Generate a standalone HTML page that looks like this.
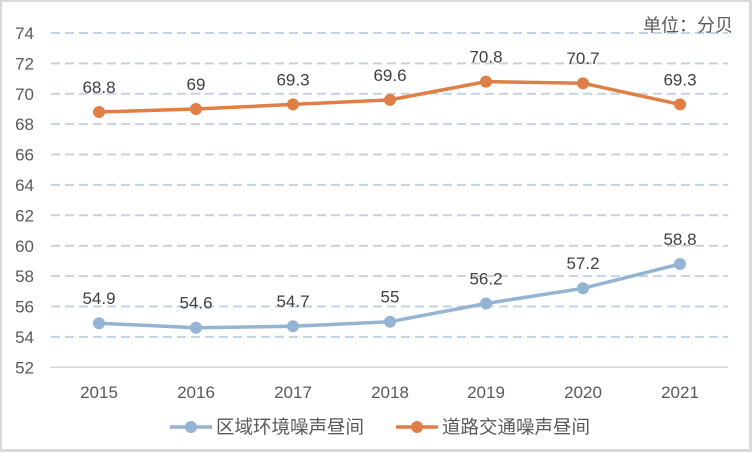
<!DOCTYPE html>
<html>
<head>
<meta charset="utf-8">
<style>
html,body{margin:0;padding:0;background:#fff;}
svg{display:block;}
text{font-family:"Liberation Sans","Noto Sans CJK SC",sans-serif;fill:#595959;}
</style>
</head>
<body>
<svg width="752" height="452" viewBox="0 0 752 452" xmlns="http://www.w3.org/2000/svg">
  <rect x="0" y="0" width="752" height="452" fill="#d9d9d9"/>
  <rect x="2" y="2" width="747" height="447" fill="#ffffff"/>

  <!-- gridlines -->
  <g stroke="#c3d3e2" stroke-width="2" stroke-dasharray="9 5">
    <line x1="51" y1="33" x2="728" y2="33"/>
    <line x1="51" y1="63.4" x2="728" y2="63.4"/>
    <line x1="51" y1="93.8" x2="728" y2="93.8"/>
    <line x1="51" y1="124.1" x2="728" y2="124.1"/>
    <line x1="51" y1="154.5" x2="728" y2="154.5"/>
    <line x1="51" y1="184.9" x2="728" y2="184.9"/>
    <line x1="51" y1="215.3" x2="728" y2="215.3"/>
    <line x1="51" y1="245.7" x2="728" y2="245.7"/>
    <line x1="51" y1="276.1" x2="728" y2="276.1"/>
    <line x1="51" y1="306.5" x2="728" y2="306.5"/>
    <line x1="51" y1="336.9" x2="728" y2="336.9"/>
  </g>
  <line x1="50" y1="367.3" x2="728" y2="367.3" stroke="#d9d9d9" stroke-width="1.5"/>

  <!-- y labels -->
  <g font-size="17" text-anchor="end">
    <text x="34" y="39">74</text>
    <text x="34" y="69.5">72</text>
    <text x="34" y="100">70</text>
    <text x="34" y="130">68</text>
    <text x="34" y="160.5">66</text>
    <text x="34" y="191">64</text>
    <text x="34" y="221.5">62</text>
    <text x="34" y="252">60</text>
    <text x="34" y="282">58</text>
    <text x="34" y="312.5">56</text>
    <text x="34" y="343">54</text>
    <text x="34" y="373.5">52</text>
  </g>

  <!-- x labels -->
  <g font-size="17" text-anchor="middle">
    <text x="99" y="398">2015</text>
    <text x="196" y="398">2016</text>
    <text x="293" y="398">2017</text>
    <text x="390" y="398">2018</text>
    <text x="486" y="398">2019</text>
    <text x="583" y="398">2020</text>
    <text x="680" y="398">2021</text>
  </g>

  <!-- unit -->
  <text x="733" y="31.5" font-size="18" text-anchor="end">单位：分贝</text>

  <!-- orange series -->
  <polyline fill="none" stroke="#df7f46" stroke-width="3.5" stroke-linejoin="round"
    points="99,112 196,109 293,104.4 390,99.9 486,81.6 583,83.2 680,104.4"/>
  <g fill="#df7f46">
    <circle cx="99" cy="112" r="6"/>
    <circle cx="196" cy="109" r="6"/>
    <circle cx="293" cy="104.4" r="6"/>
    <circle cx="390" cy="99.9" r="6"/>
    <circle cx="486" cy="81.6" r="6"/>
    <circle cx="583" cy="83.2" r="6"/>
    <circle cx="680" cy="104.4" r="6"/>
  </g>

  <!-- blue series -->
  <polyline fill="none" stroke="#94b4d4" stroke-width="3.5" stroke-linejoin="round"
    points="99,323.2 196,327.8 293,326.3 390,321.7 486,303.5 583,288.3 680,264"/>
  <g fill="#94b4d4">
    <circle cx="99" cy="323.2" r="6"/>
    <circle cx="196" cy="327.8" r="6"/>
    <circle cx="293" cy="326.3" r="6"/>
    <circle cx="390" cy="321.7" r="6"/>
    <circle cx="486" cy="303.5" r="6"/>
    <circle cx="583" cy="288.3" r="6"/>
    <circle cx="680" cy="264" r="6"/>
  </g>

  <!-- data labels -->
  <g font-size="17" text-anchor="middle">
    <text x="99" y="93" style="fill:#404040">68.8</text>
    <text x="196" y="90" style="fill:#404040">69</text>
    <text x="293" y="85.5" style="fill:#404040">69.3</text>
    <text x="390" y="81" style="fill:#404040">69.6</text>
    <text x="486" y="62.5" style="fill:#404040">70.8</text>
    <text x="583" y="64" style="fill:#404040">70.7</text>
    <text x="680" y="85.5" style="fill:#404040">69.3</text>

    <text x="99" y="304" style="fill:#404040">54.9</text>
    <text x="196" y="308.5" style="fill:#404040">54.6</text>
    <text x="293" y="307" style="fill:#404040">54.7</text>
    <text x="390" y="302.5" style="fill:#404040">55</text>
    <text x="486" y="284.5" style="fill:#404040">56.2</text>
    <text x="583" y="269" style="fill:#404040">57.2</text>
    <text x="680" y="245" style="fill:#404040">58.8</text>
  </g>

  <!-- legend -->
  <line x1="170" y1="427" x2="212" y2="427" stroke="#94b4d4" stroke-width="3.5"/>
  <circle cx="191" cy="427" r="6" fill="#94b4d4"/>
  <text x="216" y="433.5" font-size="18.5">区域环境噪声昼间</text>

  <line x1="396" y1="427" x2="438" y2="427" stroke="#df7f46" stroke-width="3.5"/>
  <circle cx="417" cy="427" r="6" fill="#df7f46"/>
  <text x="442" y="433.5" font-size="18.5">道路交通噪声昼间</text>
</svg>
</body>
</html>
